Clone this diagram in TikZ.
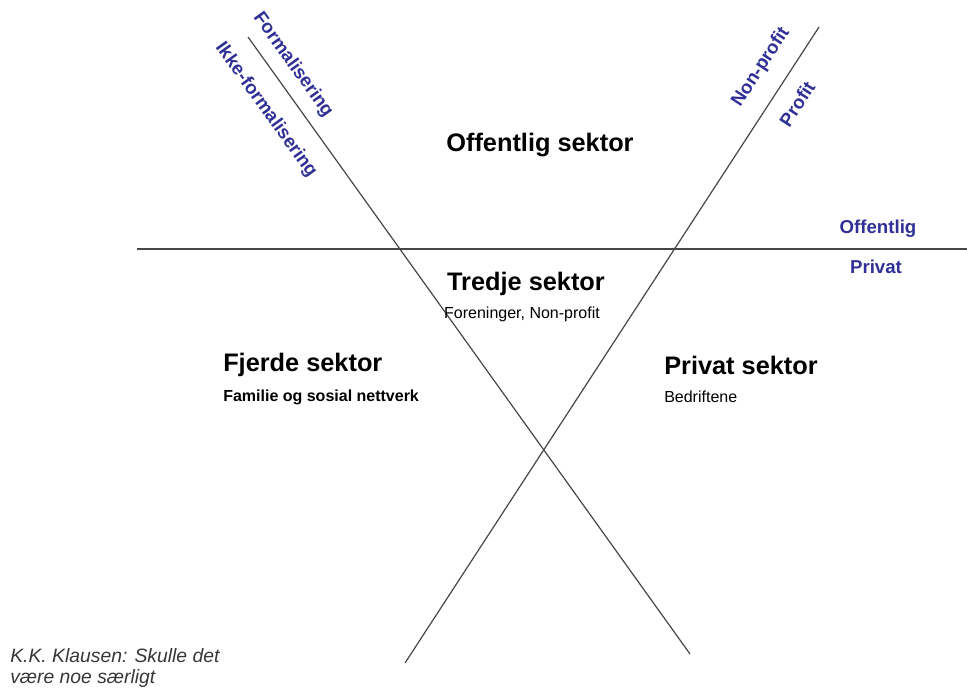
\documentclass[tikz,border=0pt]{standalone}
\usepackage{fontspec}
\setmainfont{Liberation Sans}
\definecolor{axisblue}{RGB}{48,48,150}
\definecolor{notegray}{RGB}{55,55,55}

\tikzset{
  sectorline/.style={draw={rgb,255:red,70;green,70;blue,70},line width=0.9pt},
  sectorhead/.style={inner sep=0pt,font=\fontsize{19}{22}\selectfont\bfseries},
  sectorsub/.style={inner sep=0pt,font=\fontsize{12}{14}\selectfont},
  sectorsubb/.style={inner sep=0pt,font=\fontsize{12}{14}\selectfont\bfseries},
  axislabel/.style={inner sep=0pt,text=axisblue,font=\fontsize{14}{16}\selectfont\bfseries},
}

\begin{document}
\begin{tikzpicture}[x=0.75pt,y=0.75pt,yscale=-1,xscale=1]
\useasboundingbox (0,0) rectangle (967,687);

% End points of the three dividing lines
\coordinate (formTop) at (248,37);
\coordinate (formBot) at (690,654);
\coordinate (profTop) at (819,27);
\coordinate (profBot) at (405,663);
\coordinate (offL) at (137,249);
\coordinate (offR) at (967,249);

%Straight Lines
\draw [sectorline] (formTop) -- (formBot) ;
%Straight Lines
\draw [sectorline] (profTop) -- (profBot) ;
%Straight Lines
\draw [sectorline] (offL) -- (offR) ;

% Text Node
\node [axislabel,rotate=-54.3] (formal) at (293,65) {Formalisering};
% Text Node
\node [axislabel,rotate=-54.3] (ikkeformal) at (266,110) {Ikke-formalisering};
% Text Node
\node [axislabel,rotate=56.9] (nonprofit) at (761,67) {Non-profit};
% Text Node
\node [axislabel,rotate=56.9] (profit) at (797,104) {Profit};
% Text Node
\node [axislabel] (offentlig) at (878,229) {Offentlig};
% Text Node
\node [axislabel] (privat) at (876,267) {Privat};

% Text Node
\node [sectorhead] (offsektor) at (540,145) {Offentlig sektor};
% Text Node
\node [sectorhead] (tredje) at (526,284) {Tredje sektor};
% Text Node
\node [sectorsub] (foreninger) at (522,314) {Foreninger, Non-profit};
% Text Node
\node [sectorhead,anchor=west] (fjerde) at (223,365) {Fjerde sektor};
% Text Node
\node [sectorsubb,anchor=west] (familie) at (223,397) {Familie og sosial nettverk};
% Text Node
\node [sectorhead,anchor=west] (privsektor) at (664,365) {Privat sektor};
% Text Node
\node [sectorsub,anchor=west] (bedrift) at (664,397) {Bedriftene};

% Text Node
\node [inner sep=0pt,anchor=west,align=left,text=notegray,font=\fontsize{14.5}{16}\selectfont\itshape] (kilde) at (10,668) {K.K. Klausen: Skulle det\\være noe særligt};

\end{tikzpicture}
\end{document}
